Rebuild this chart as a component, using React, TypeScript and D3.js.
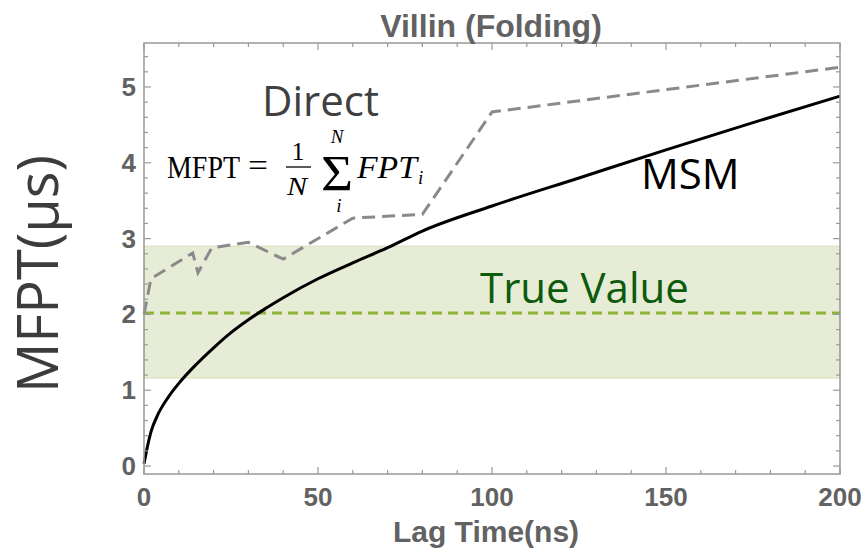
import React, { useRef, useEffect } from "react";
import { select, scaleLinear, line, curveMonotoneX, range } from "d3";

const W = 865;
const H = 552;

// MSM estimate, lag time (ns) vs MFPT (us)
const msmLag = [0, 1, 2, 4, 7, 10, 15, 20, 25, 30, 35, 40, 50, 60, 70, 80, 100, 125, 150, 175, 200];
const msmMfpt = [0.03, 0.26, 0.45, 0.68, 0.91, 1.09, 1.34, 1.56, 1.76, 1.93, 2.08, 2.22, 2.47, 2.68, 2.88, 3.1, 3.43, 3.8, 4.17, 4.53, 4.88];

// direct average of first passage times
const directLag = [0, 2, 14, 15.5, 19.5, 30, 40, 60, 80, 100, 200];
const directMfpt = [2.0, 2.47, 2.81, 2.55, 2.88, 2.95, 2.73, 3.27, 3.32, 4.67, 5.26];

// true value and its uncertainty band
const trueValue = 2.02;
const trueBand = [1.16, 2.9];

const xTicks = [0, 50, 100, 150, 200];
const yTicks = [0, 1, 2, 3, 4, 5];

const App = () => {
  const svgRef = useRef(null);

  useEffect(() => {
    const svg = select(svgRef.current);
    svg.selectAll("*").remove();

    // frame runs a little past the data range like mathematica does
    const x = scaleLinear().domain([0, 200]).range([144, 840]);
    const y = scaleLinear().domain([-0.105, 5.58]).range([474, 43]);
    const [x0, x1] = x.range();
    const [yb, yt] = y.range();

    // green band
    svg
      .append("rect")
      .attr("x", x0)
      .attr("width", x1 - x0)
      .attr("y", y(trueBand[1]))
      .attr("height", y(trueBand[0]) - y(trueBand[1]))
      .attr("fill", "#e6ecd6")
      .attr("stroke", "#d4e0b8")
      .attr("stroke-width", 1);

    svg
      .append("line")
      .attr("x1", x0)
      .attr("x2", x1)
      .attr("y1", y(trueValue))
      .attr("y2", y(trueValue))
      .attr("stroke", "#8fb43a")
      .attr("stroke-width", 3)
      .attr("stroke-dasharray", "10 6");

    const directLine = line()
      .x((d) => x(d[0]))
      .y((d) => y(d[1]));
    svg
      .append("path")
      .datum(directLag.map((l, i) => [l, directMfpt[i]]))
      .attr("d", directLine)
      .attr("fill", "none")
      .attr("stroke", "#8a8a8a")
      .attr("stroke-width", 3)
      .attr("stroke-dasharray", "13 7");

    const msmLine = line()
      .x((d) => x(d[0]))
      .y((d) => y(d[1]))
      .curve(curveMonotoneX);
    svg
      .append("path")
      .datum(msmLag.map((l, i) => [l, msmMfpt[i]]))
      .attr("d", msmLine)
      .attr("fill", "none")
      .attr("stroke", "#000")
      .attr("stroke-width", 3);

    // frame + inward ticks on all four sides
    const frameCol = "#999";
    svg
      .append("rect")
      .attr("x", x0)
      .attr("y", yt)
      .attr("width", x1 - x0)
      .attr("height", yb - yt)
      .attr("fill", "none")
      .attr("stroke", frameCol)
      .attr("stroke-width", 1.5);

    const xMinor = range(0, 201, 10);
    const yMinor = range(0, 28).map((i) => i * 0.2);
    const tickG = svg.append("g").attr("stroke", frameCol).attr("stroke-width", 1.2);
    xMinor.forEach((t) => {
      const len = t % 50 === 0 ? 7 : 4;
      tickG.append("line").attr("x1", x(t)).attr("x2", x(t)).attr("y1", yb).attr("y2", yb - len);
      tickG.append("line").attr("x1", x(t)).attr("x2", x(t)).attr("y1", yt).attr("y2", yt + len);
    });
    yMinor.forEach((t) => {
      const major = Math.abs(t - Math.round(t)) < 1e-6;
      const len = major ? 7 : 4;
      tickG.append("line").attr("x1", x0).attr("x2", x0 + len).attr("y1", y(t)).attr("y2", y(t));
      tickG.append("line").attr("x1", x1).attr("x2", x1 - len).attr("y1", y(t)).attr("y2", y(t));
    });

    const axisFont = "'Liberation Sans', Arial, sans-serif";
    const axisCol = "#626262";
    svg
      .append("g")
      .selectAll("text")
      .data(xTicks)
      .join("text")
      .attr("x", (d) => x(d))
      .attr("y", 506)
      .attr("text-anchor", "middle")
      .attr("font-family", axisFont)
      .attr("font-weight", "bold")
      .attr("font-size", 26)
      .attr("fill", axisCol)
      .text((d) => d);

    svg
      .append("g")
      .selectAll("text")
      .data(yTicks)
      .join("text")
      .attr("x", 136)
      .attr("y", (d) => y(d) + 9)
      .attr("text-anchor", "end")
      .attr("font-family", axisFont)
      .attr("font-weight", "bold")
      .attr("font-size", 26)
      .attr("fill", axisCol)
      .text((d) => d);

    svg
      .append("text")
      .attr("x", 491)
      .attr("y", 37)
      .attr("text-anchor", "middle")
      .attr("font-family", axisFont)
      .attr("font-weight", "bold")
      .attr("font-size", 32)
      .attr("fill", axisCol)
      .text("Villin (Folding)");

    svg
      .append("text")
      .attr("x", 486)
      .attr("y", 542)
      .attr("text-anchor", "middle")
      .attr("font-family", axisFont)
      .attr("font-weight", "bold")
      .attr("font-size", 30)
      .attr("fill", axisCol)
      .text("Lag Time(ns)");

    // slide-style labels
    const slideFont = "'Open Sans', sans-serif";
    svg
      .append("text")
      .attr("transform", "translate(58,274) rotate(-90)")
      .attr("text-anchor", "middle")
      .attr("font-family", slideFont)
      .attr("font-size", 56)
      .attr("fill", "#3c3c3c")
      .text("MFPT(μs)");

    const note = (txt, px, py, col) =>
      svg
        .append("text")
        .attr("x", px)
        .attr("y", py)
        .attr("font-family", slideFont)
        .attr("font-size", 42)
        .attr("fill", col)
        .text(txt);
    note("Direct", 262, 116, "#404040");
    note("MSM", 641, 189, "#000");
    note("True Value", 480, 303, "#0c5a0c");

    // the formula, roughly in latex style (a bit stretched, like the pasted image)
    const serif = "'Liberation Serif', 'Times New Roman', serif";
    const f = svg.append("g").attr("font-family", serif).attr("fill", "#000");
    const ft = (txt, px, py, size, italic, anchor = "start", len = 0) => {
      const t = f
        .append("text")
        .attr("x", px)
        .attr("y", py)
        .attr("font-size", size)
        .attr("font-style", italic ? "italic" : "normal")
        .attr("text-anchor", anchor)
        .text(txt);
      if (len) t.attr("textLength", len).attr("lengthAdjust", "spacingAndGlyphs");
      return t;
    };
    ft("MFPT", 167, 178, 32, false, "start", 73);
    ft("=", 258, 176, 32, false, "middle", 20);
    ft("1", 298, 160, 26, false, "middle");
    f.append("line").attr("x1", 286).attr("x2", 311).attr("y1", 167).attr("y2", 167).attr("stroke", "#000").attr("stroke-width", 1.3);
    ft("N", 297, 195, 26, true, "middle", 20);
    ft("Σ", 337, 190, 50, false, "middle", 32);
    ft("N", 337, 143, 19, true, "middle");
    ft("i", 339, 212, 19, true, "middle");
    ft("FPT", 357, 178, 32, true, "start", 60);
    ft("i", 418, 184, 19, true);
  }, []);

  return (
    <svg
      ref={svgRef}
      width={W}
      height={H}
      style={{ position: "absolute", left: 0, top: 0, background: "#fff" }}
    />
  );
};

export default App;
